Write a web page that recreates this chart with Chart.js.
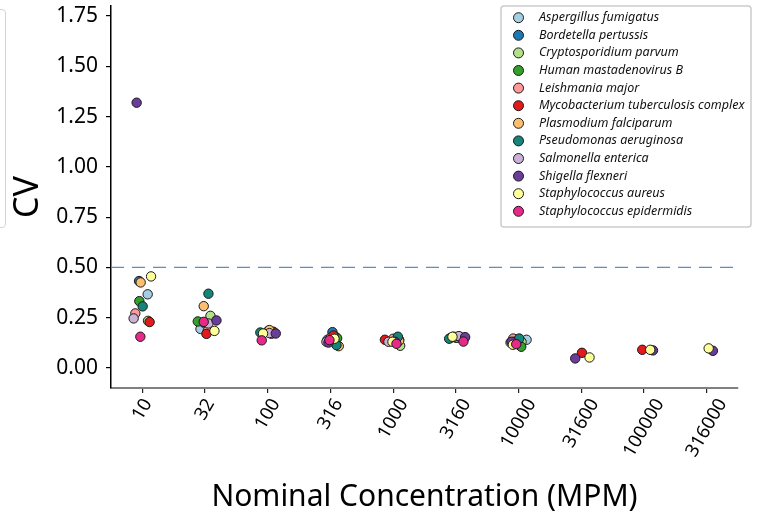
<!DOCTYPE html>
<html>
<head>
<meta charset="utf-8">
<script src="https://cdn.jsdelivr.net/npm/chart.js@4.4.1/dist/chart.umd.min.js"></script>
<style>
  html, body { margin: 0; padding: 0; background: #fff; overflow: hidden; }
  #wrap { position: relative; width: 760px; height: 523px; }
  /* edge of the neighbouring panel's legend, cut off by the crop */
  #side-legend { position: absolute; left: -120px; top: 9px; width: 124px; height: 217px;
                 border: 1.5px solid #d4d4d4; border-radius: 4px; }
</style>
</head>
<body>
<div id="wrap">
  <div id="side-legend"></div>
  <canvas id="chart-cv" width="760" height="523"></canvas>
</div>
<script>
// Data

const concentrations = ["10", "32", "100", "316", "1000", "3160", "10000", "31600", "100000", "316000"];

const species = [
  "Aspergillus fumigatus",
  "Bordetella pertussis",
  "Cryptosporidium parvum",
  "Human mastadenovirus B",
  "Leishmania major",
  "Mycobacterium tuberculosis complex",
  "Plasmodium falciparum",
  "Pseudomonas aeruginosa",
  "Salmonella enterica",
  "Shigella flexneri",
  "Staphylococcus aureus",
  "Staphylococcus epidermidis",
];

const colors = [
  "#a6cee3", "#1f78b4", "#b2df8a", "#33a02c", "#fb9a99", "#e31a1c",
  "#fdbf6f", "#15847a", "#cab2d6", "#6a3d9a", "#ffff99", "#e7298a",
];

// CV per concentration (null = not tested)
const cvAspergillus   = [0.366, 0.194, 0.180, 0.140, 0.140, 0.150, 0.140, null, null, null];
const cvBordetella    = [0.432, 0.225, 0.180, 0.178, 0.145, 0.150, 0.140, null, null, null];
const cvCrypto        = [0.234, 0.259, 0.175, 0.155, 0.110, 0.150, 0.130, null, null, null];
const cvAdenovirus    = [0.332, 0.231, 0.170, 0.148, 0.140, 0.148, 0.105, null, null, null];
const cvLeishmania    = [0.271, 0.184, 0.185, 0.150, 0.145, 0.155, 0.146, null, null, null];
const cvMycobacterium = [0.228, 0.169, 0.180, 0.161, 0.140, 0.150, 0.130, 0.075, 0.090, null];
const cvPlasmodium    = [0.425, 0.307, 0.188, 0.108, 0.135, 0.155, 0.125, null, null, null];
const cvPseudomonas   = [0.306, 0.369, 0.176, 0.113, 0.155, 0.145, 0.146, null, null, null];
const cvSalmonella    = [0.246, 0.221, 0.173, 0.130, 0.130, 0.158, 0.126, null, null, null];
const cvShigella      = [1.319, 0.236, 0.171, 0.126, 0.130, 0.153, 0.130, 0.047, 0.087, 0.085];
const cvSAureus       = [0.455, 0.184, 0.171, 0.145, 0.130, 0.155, 0.115, 0.052, 0.090, 0.097];
const cvSEpidermidis  = [0.155, 0.229, 0.137, 0.138, 0.120, 0.131, 0.118, null, null, null];

// strip-plot jitter (in category units) as seen in the figure
const jitAspergillus   = [0.085, -0.073, 0.000, -0.048, 0.096, 0.000, 0.128, 0, 0, 0];
const jitBordetella    = [-0.053, -0.020, 0.050, 0.032, 0.048, -0.080, -0.016, 0, 0, 0];
const jitCrypto        = [0.091, 0.086, 0.080, 0.080, 0.112, 0.020, 0.048, 0, 0, 0];
const jitAdenovirus    = [-0.048, -0.116, 0.060, 0.107, 0.080, 0.100, 0.043, 0, 0, 0];
const jitLeishmania    = [-0.112, 0.043, 0.010, 0.000, 0.000, 0.060, -0.085, 0, 0, 0];
const jitMycobacterium = [0.116, 0.022, 0.090, 0.048, -0.132, 0.090, -0.069, 0.011, -0.027, 0];
const jitPlasmodium    = [-0.027, -0.021, 0.026, 0.132, 0.096, -0.030, -0.096, 0, 0, 0];
const jitPseudomonas   = [0.005, 0.054, -0.118, 0.096, 0.075, -0.107, 0.011, 0, 0, 0];
const jitSalmonella    = [-0.139, 0.054, 0.026, -0.064, -0.075, 0.048, -0.128, 0, 0, 0];
const jitShigella      = [-0.091, 0.182, 0.128, -0.032, 0.030, 0.148, -0.112, -0.096, 0.144, 0.100];
const jitSAureus       = [0.139, 0.150, -0.075, 0.064, -0.011, -0.054, -0.091, 0.132, 0.100, 0.032];
const jitSEpidermidis  = [-0.032, -0.021, -0.096, -0.016, 0.053, 0.121, -0.037, 0, 0, 0];

const cvValues = [cvAspergillus, cvBordetella, cvCrypto, cvAdenovirus, cvLeishmania, cvMycobacterium,
                  cvPlasmodium, cvPseudomonas, cvSalmonella, cvShigella, cvSAureus, cvSEpidermidis];
const jitters = [jitAspergillus, jitBordetella, jitCrypto, jitAdenovirus, jitLeishmania, jitMycobacterium,
                 jitPlasmodium, jitPseudomonas, jitSalmonella, jitShigella, jitSAureus, jitSEpidermidis];

const threshold = 0.5;

// Chart

const FONT = "'Noto Sans', sans-serif";
Chart.defaults.font.family = FONT;
Chart.defaults.color = "#000";

const datasets = species.map((name, i) => ({
  label: name,
  data: cvValues[i]
    .map((v, j) => (v === null ? null : { x: j + jitters[i][j], y: v }))
    .filter((p) => p !== null),
  backgroundColor: colors[i],
  borderColor: "#1a1a1a",
  borderWidth: 1,
  pointRadius: 4.7,
  order: species.length - i,
}));

const thresholdLine = {
  id: "thresholdLine",
  beforeDatasetsDraw(chart) {
    const { ctx, chartArea, scales } = chart;
    const y = scales.y.getPixelForValue(threshold);
    ctx.save();
    ctx.strokeStyle = "#5a8fc4";
    ctx.lineWidth = 1.2;
    ctx.setLineDash([13, 8]);
    ctx.beginPath();
    ctx.moveTo(chartArea.left, y);
    ctx.lineTo(chartArea.right, y);
    ctx.stroke();
    ctx.restore();
  },
};

// rotated category labels centred under their tick (matplotlib style)
const xLabels = {
  id: "xLabels",
  afterDraw(chart) {
    const { ctx, chartArea, scales } = chart;
    const size = 18.5;
    const ang = (60 * Math.PI) / 180;
    ctx.save();
    ctx.font = `${size}px ${FONT}`;
    ctx.fillStyle = "#000";
    ctx.textAlign = "center";
    ctx.textBaseline = "middle";
    concentrations.forEach((label, i) => {
      const w = ctx.measureText(label).width;
      const h = size * 0.95;
      const boxH = w * Math.sin(ang) + h * Math.cos(ang);
      const x = scales.x.getPixelForValue(i);
      const y = chartArea.bottom + 8 + boxH / 2;
      ctx.save();
      ctx.translate(x, y);
      ctx.rotate(-ang);
      ctx.fillText(label, 0, 0);
      ctx.restore();
    });
    ctx.restore();
  },
};

// legend drawn inside the plot, upper right, like the matplotlib one
const innerLegend = {
  id: "innerLegend",
  afterDraw(chart) {
    const ctx = chart.ctx;
    const x0 = 501, y0 = 6, w = 250, h = 221;
    ctx.save();
    ctx.fillStyle = "rgba(255,255,255,0.85)";
    ctx.strokeStyle = "#cccccc";
    ctx.lineWidth = 1.5;
    ctx.beginPath();
    ctx.roundRect(x0, y0, w, h, 3);
    ctx.fill();
    ctx.stroke();
    ctx.font = `italic 12.5px ${FONT}`;
    ctx.textBaseline = "middle";
    species.forEach((name, i) => {
      const cy = 17.7 + i * 17.6;
      ctx.beginPath();
      ctx.arc(518.5, cy, 5, 0, Math.PI * 2);
      ctx.fillStyle = colors[i];
      ctx.fill();
      ctx.lineWidth = 1;
      ctx.strokeStyle = "#1a1a1a";
      ctx.stroke();
      ctx.fillStyle = "#111";
      ctx.fillText(name, 539, cy);
    });
    ctx.restore();
  },
};

const ctx1 = document.getElementById("chart-cv").getContext("2d");
const cvChart = new Chart(ctx1, {
  type: "scatter",
  data: { datasets },
  plugins: [thresholdLine, xLabels, innerLegend],
  options: {
    responsive: false,
    animation: false,
    devicePixelRatio: 1,
    layout: { padding: { top: 6, right: 22, left: 0, bottom: 0 } },
    plugins: {
      legend: { display: false },
      tooltip: { enabled: false },
    },
    scales: {
      x: {
        type: "linear",
        min: -0.5,
        max: 9.5,
        afterBuildTicks: (scale) => {
          scale.ticks = concentrations.map((c, i) => ({ value: i }));
        },
        afterFit: (scale) => {
          scale.height = 135;
          scale.paddingLeft = 0;
          scale.paddingRight = 0;
        },
        ticks: { display: false },
        grid: { drawOnChartArea: false, tickLength: 5, color: "#222", lineWidth: 1.2 },
        border: { color: "#808080", width: 2 },
        title: {
          display: true,
          text: "Nominal Concentration (MPM)",
          font: { size: 30 },
          padding: { top: 0, bottom: 8 },
        },
      },
      y: {
        min: -0.1,
        max: 1.8,
        afterFit: (scale) => {
          scale.width = 111;
          scale.paddingTop = 0;
          scale.paddingBottom = 0;
        },
        ticks: {
          stepSize: 0.25,
          includeBounds: false,
          callback: (value) => value.toFixed(2),
          padding: 8,
          font: { size: 21 },
        },
        grid: { drawOnChartArea: false, tickLength: 5, color: "#000", lineWidth: 1.2 },
        border: { color: "#000", width: 1.5 },
        title: {
          display: true,
          text: "CV",
          font: { size: 34 },
          padding: { top: 8, bottom: 4 },
        },
      },
    },
  },
});
</script>
</body>
</html>
